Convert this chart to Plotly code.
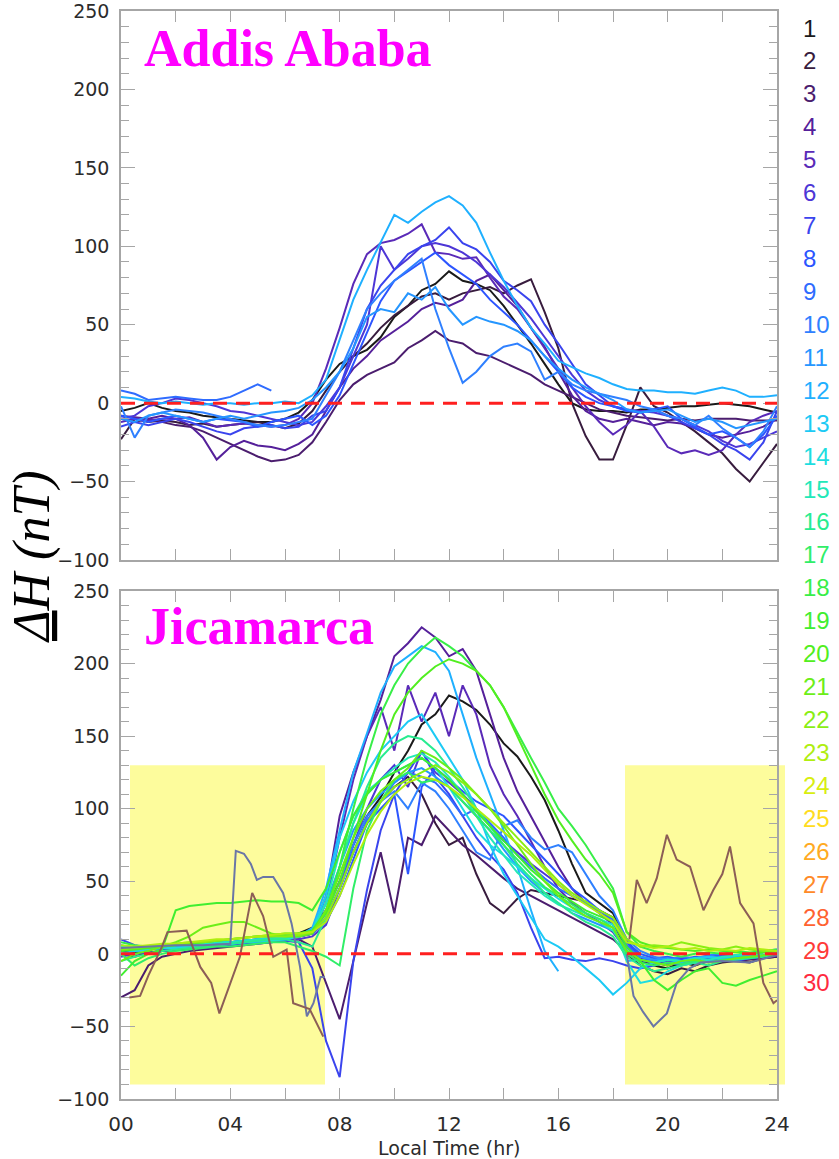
import plotly.graph_objects as go

# ---------------------------------------------------------------- time grid
hours = [0.0, 0.5, 1.0, 1.5, 2.0, 2.5, 3.0, 3.5, 4.0, 4.5, 5.0, 5.5, 6.0, 6.5,
         7.0, 7.5, 8.0, 8.5, 9.0, 9.5, 10.0, 10.5, 11.0, 11.5, 12.0, 12.5,
         13.0, 13.5, 14.0, 14.5, 15.0, 15.5, 16.0, 16.5, 17.0, 17.5, 18.0,
         18.5, 19.0, 19.5, 20.0, 20.5, 21.0, 21.5, 22.0, 22.5, 23.0, 23.5, 24.0]

# ---------------------------------------------------------------- day colours (legend 1..30)
day_colors = ["#1a1a1a", "#381c3e", "#4b1d6e", "#55209a", "#5a2ab8", "#4d36d6",
              "#3a44ee", "#2c55ff", "#2f6cff", "#2f80ff", "#2596ff", "#1fb0ff",
              "#1ccaf5", "#1ddde0", "#22e8b8", "#28ec90", "#30ee68", "#38ee48",
              "#40ee30", "#52ee20", "#6cee18", "#8aee14", "#b0ee10", "#d8ee10",
              "#ffdc20", "#ffaa22", "#ff8a28", "#ff6230", "#ff3a38", "#ff2a40"]
day_labels = [str(d) for d in range(1, 31)]

# ---------------------------------------------------------------- Addis Ababa, Delta H (nT)
addis_d01 = [-5, -3, 0, -3, -5, -6, -8, -9, -10, -11, -12, -12, -10, -6, 2, 15, 25, 30, 34, 42,
             55, 62, 72, 76, 84, 78, 76, 72, 62, 50, 38, 25, 12, 0, -4, -5, -5, -6, -4, -4,
             -3, -2, -2, -1, 0, -1, -2, -4, -6]
addis_d02 = [-23, -10, -12, -11, -12, -14, -13, -15, -14, -13, -12, -14, -16, -13, -5, 8, 20, 30, 38, 48,
             56, 62, 68, 70, 66, 70, 72, 74, 70, 75, 79, 58, 35, 0, -21, -36, -36, -14, 10, -2,
             -6, -12, -18, -25, -32, -42, -50, -38, -26]
addis_d03 = [-10, -12, -10, -12, -14, -15, -18, -22, -26, -30, -34, -37, -36, -33, -25, -12, 2, 12, 18, 22,
             26, 35, 40, 46, 40, 38, 32, 30, 26, 22, 18, 12, 8, 4, 0, -4, -6, -8, -9, -10,
             -11, -10, -11, -10, -10, -10, -11, -11, -11]
addis_d04 = [-8, -9, -10, -8, -10, -14, -22, -36, -28, -24, -27, -28, -30, -26, -20, -5, 10, 22, 30, 40,
             46, 52, 60, 64, 62, 66, 78, 82, 72, 62, 48, 36, 20, 5, -5, -10, -12, -10, -12, -14,
             -12, -13, -16, -20, -22, -20, -18, -15, -10]
addis_d05 = [-12, -10, -11, -10, -10, -9, -12, -15, -14, -13, -14, -15, -14, -10, 0, 22, 48, 76, 95, 102,
             104, 108, 114, 96, 95, 92, 93, 80, 68, 60, 48, 35, 22, 10, -2, -12, -20, -14, -5, -15,
             -28, -32, -30, -33, -30, -20, -12, -8, -5]
addis_d06 = [-10, -8, -2, 0, 3, 2, 0, -2, -5, -6, -8, -10, -12, -14, -12, -2, 10, 30, 50, 100,
             85, 92, 100, 102, 100, 96, 90, 82, 74, 64, 54, 42, 30, 18, 8, 2, -2, -4, -5, -6,
             -8, -10, -14, -18, -24, -28, -26, -22, -18]
addis_d07 = [-15, -12, -14, -12, -10, -12, -15, -18, -20, -16, -15, -14, -16, -15, -8, -5, 10, 35, 60, 75,
             85, 95, 100, 104, 112, 102, 98, 90, 78, 72, 65, 50, 38, 25, 12, 5, -2, -4, -6, -4,
             -8, -12, -16, -20, -26, -30, -36, -25, -5]
addis_d08 = [-8, -10, -12, -10, -8, -10, -12, -10, -11, -12, -15, -12, -10, -8, -14, -8, 5, 25, 45, 65,
             78, 84, 90, 96, 88, 82, 76, 66, 58, 50, 40, 30, 20, 10, 4, 0, -2, -5, -6, -4,
             -2, -10, -15, -20, -18, -22, -28, -20, -8]
addis_d09 = [8, 6, 2, 3, 4, 3, 2, 2, 4, 8, 12, 8]
addis_d10 = [-2, -22, -8, -6, -4, -5, -6, -8, -10, -12, -14, -15, -14, -12, -10, 5, 20, 40, 60, 70,
             78, 85, 92, 60, 35, 13, 20, 30, 36, 38, 33, 15, 20, 12, 8, 6, 4, 2, -2, -4,
             -8, -10, -14, -8, -16, -22, -28, -18, -2]
addis_d11 = [-10, -12, -8, -6, -8, -10, -12, -10, -8, -10, -8, -6, -5, -3, 2, 10, 20, 35, 55, 60,
             58, 70, 66, 74, 60, 50, 55, 52, 50, 46, 40, 30, 22, 15, 10, 6, 2, -4, -6, -5,
             -4, -8, -12, -10, -12, -16, -14, -12, -10]
addis_d12 = [4, 3, 1, 0, 1, 0, -1, 0, 0, -1, 0, 0, 1, 0, 5, 15, 40, 66, 85, 102,
             120, 115, 122, 128, 132, 126, 115, 96, 78, 62, 48, 38, 27, 23, 19, 16, 12, 9, 8, 8,
             7, 7, 6, 8, 10, 8, 4, 4, 5]

# ---------------------------------------------------------------- Jicamarca, Delta H (nT)
jica_d01 = [2, 1, 0, 2, 3, 4, 5, 6, 7, 8, 9, 10, 12, 14, 18, 30, 50, 75, 95, 108,
            125, 140, 158, 165, 178, 174, 168, 158, 145, 136, 122, 106, 85, 62, 42, 35, 28, 10, -5, -8,
            -10, -6, -8, -5, -3, -4, -2, -1, 0]
jica_d02 = [0, -2, 1, 2, 3, 4, 4, 5, 6, 7, 8, 9, 10, 12, 14, 25, 45, 70, 90, 105,
            115, 122, 110, 90, 75, 80, 55, 35, 28, 38, 44, 42, 40, 38, 36, 30, 25, 0, -8, -12,
            -14, -10, -12, -8, -6, -5, -6, -3, -2]
jica_d03 = [-30, -25, -8, -2, 0, 2, 3, 4, 5, 6, 7, 8, 9, 10, 5, -20, -45, -5, 35, 70,
            28, 80, 75, 95, 85, 75, 68, 60, 52, 45, 40, 35, 30, 25, 20, 15, 10, 2, -5, -6,
            -8, -5, -6, -4, -3, -5, -4, -3, -2]
jica_d04 = [5, 3, 4, 5, 6, 6, 7, 8, 8, 9, 10, 10, 11, 12, 15, 40, 95, 125, 150, 175,
            205, 214, 225, 218, 205, 210, 195, 165, 135, 112, 95, 78, 60, 45, 35, 28, 20, 5, -3, -5,
            -6, -4, -5, -3, -2, -3, -1, 0, 1]
jica_d05 = [3, 2, 3, 4, 5, 5, 6, 6, 7, 8, 8, 9, 10, 12, 14, 35, 80, 120, 150, 170,
            140, 185, 160, 180, 150, 185, 165, 130, 110, 95, 78, 60, 45, 35, 28, 22, 15, 2, -4, -6,
            -5, -3, -4, -2, -1, -2, 0, 1, 2]
jica_d06 = [-2, 0, 1, 2, 3, 4, 4, 5, 6, 7, 7, 8, 9, 10, 12, 20, 45, 75, 100, 120,
            130, 115, 140, 125, 118, 110, 100, 88, 78, 70, 62, 55, 48, 40, 35, 30, 24, 8, -2, -4,
            -5, -3, -4, -2, -3, -2, -1, 0, 0]
jica_d07 = [10, 6, 4, 3, 4, 5, 5, 6, 6, 7, 8, 8, 9, 8, -10, -60, -85, -5, 44, 85,
            110, 125, 140, 122, 110, 95, 80, 68, 58, 42, 18, -3, -2, -4, -5, -3, -5, -8, -10, -8,
            -6, -8, -6, -5, -4, -5, -3, -2, -1]
jica_d08 = [4, 3, 3, 4, 5, 5, 6, 6, 7, 8, 9, 10, 11, 12, 14, 22, 40, 65, 90, 100,
            110, 55, 115, 128, 120, 112, 105, 100, 95, 85, 75, 65, 55, 45, 38, 30, 22, 8, 0, -3,
            -2, -4, -2, -3, -1, -2, 0, 1, 2]
jica_d09 = [6, 4, 5, 5, 6, 6, 7, 7, 8, 9, 9, 10, 11, 12, 14, 25, 45, 70, 92, 105,
            118, 125, 122, 118, 108, 95, 100, 90, 80, 68, 60, 52, 45, 40, 35, 30, 24, 6, -2, -5,
            -3, -6, -4, -2, -3, -1, 0, 1, 2]
jica_d10 = [5, 4, 5, 5, 6, 7, 7, 8, 8, 9, 10, 10, 11, 12, 15, 28, 50, 75, 95, 105,
            112, 100, 118, 112, 100, 85, 70, 65, 88, 92, 80, 72, 75, 70, 55, 40, 30, 10, 2, -2,
            -4, -2, -3, -1, 0, -2, 0, 2, 3]
jica_d11 = [2, 3, 4, 4, 5, 5, 6, 7, 7, 8, 9, 10, 10, 12, 16, 35, 60, 85, 100, 110,
            118, 125, 128, 122, 115, 105, 95, 85, 72, 60, 50, 42, 35, 28, 24, 20, 16, 4, -2, -4,
            -3, -5, -3, -2, -3, -1, 0, 1, 2]
jica_d12 = [0, 2, 3, 4, 4, 5, 6, 6, 7, 8, 8, 9, 10, 12, 18, 45, 85, 125, 152, 180,
            198, 205, 212, 208, 195, 165, 135, 110, 85, 60, 30, 2, -12, None, None, None, None, -5, -4, -6,
            -4, -6, -3, -2, -4, -2, -1, 0, 0]
jica_d13 = [4, 3, 5, 5, 6, 6, 7, 8, 8, 9, 10, 11, 12, 13, 16, 40, 80, 105, 125, 140,
            150, 160, 165, 150, 135, 120, 100, 75, 55, 40, 25, 10, 5, -2, -10, -18, -28, -20, -10, -6,
            -4, -5, -3, -2, -3, -1, 0, 1, 1]
jica_d14 = [3, 2, 3, 4, 4, 5, 6, 6, 7, 8, 9, 9, 10, 12, 15, 30, 60, 90, 110, 120,
            125, 130, 135, 128, 115, 100, 85, 75, 68, 60, 52, 45, 38, 32, 28, 24, 20, -5, -20, -18,
            -12, -8, -6, -4, -5, -3, -2, 0, 1]
jica_d15 = [5, 4, 5, 5, 6, 7, 7, 8, 8, 9, 10, 10, 11, 12, 16, 35, 70, 95, 112, 120,
            128, 135, 138, 132, 122, 110, 95, 80, 68, 56, 48, 40, 34, 30, 26, 22, 16, 2, -4, -6,
            -4, -5, -3, -4, -2, -1, 0, 1, 2]
jica_d16 = [-5, -2, 0, 2, 3, 4, 5, 6, 7, 8, 9, 10, 10, 8, 5, 25, 60, 90, 115, 135,
            145, 150, 148, 140, 128, 115, 100, 88, 75, 62, 52, 42, 35, 28, 22, 18, 12, -2, -8, -12,
            -10, -8, -6, -8, -5, -4, -3, -2, 0]
jica_d17 = [0, -8, -3, 0, 2, 3, 4, 5, 5, 6, 7, 8, 8, 5, 2, -2, -8, 45, 85, 105,
            120, 125, 118, 120, 115, 105, 95, 85, 75, 65, 55, 46, 40, 34, 28, 24, 18, 0, -6, -8,
            -6, -7, -5, -6, -4, -3, -2, -1, 0]
jica_d18 = [8, 6, 5, 5, 6, 7, 8, 9, 10, 11, 12, 12, 13, 14, 16, 30, 60, 100, 135, 165,
            185, 200, 210, 218, 212, 205, 195, 185, 170, 152, 135, 118, 100, 88, 75, 60, 45, 15, 5, 2,
            0, -2, 0, 1, 0, 2, 1, 2, 3]
jica_d19 = [-15, -5, 0, 3, 30, 33, 34, 35, 35, 36, 37, 36, 36, 35, 30, 45, 70, 95, 110, 120,
            125, 130, 135, 128, 120, 110, 98, 88, 78, 68, 58, 50, 42, 36, 30, 26, 22, 5, -5, -18,
            -25, -18, -12, -10, -20, -22, -18, -15, -12]
jica_d20 = [2, 3, 4, 5, 6, 7, 8, 9, 10, 11, 12, 13, 14, 14, 16, 28, 50, 80, 110, 140,
            165, 180, 190, 198, 203, 200, 195, 185, 170, 150, 130, 110, 92, 78, 65, 55, 42, 15, 8, 5,
            4, 3, 2, 3, 2, 1, 0, 1, 2]
jica_d21 = [-5, 0, 2, 5, 8, 12, 18, 20, 22, 22, 18, 14, 12, 12, 14, 30, 55, 80, 100, 112,
            120, 128, 140, 135, 128, 120, 110, 100, 88, 75, 62, 50, 40, 32, 26, 22, 18, 2, -4, -6,
            -8, -5, -4, -6, -5, -3, -2, -1, 0]
jica_d22 = [3, 4, 5, 6, 7, 8, 8, 9, 10, 11, 12, 12, 12, 13, 15, 25, 45, 70, 90, 105,
            115, 120, 125, 130, 125, 118, 110, 100, 90, 80, 70, 60, 50, 42, 36, 30, 25, 10, 5, 6,
            5, 8, 6, 4, 3, 5, 3, 2, 2]
jica_d23 = [6, 5, 6, 7, 7, 8, 9, 10, 10, 11, 12, 13, 14, 14, 15, 22, 40, 62, 82, 98,
            110, 118, 122, 120, 115, 108, 100, 92, 84, 76, 68, 58, 48, 40, 34, 28, 22, 8, 6, 4,
            5, 3, 4, 2, 3, 2, 4, 3, 2]

# two disturbed nights, sampled on their own times (gap through the day)
brown_hours = [0.3, 0.7, 1.0, 1.5, 1.7, 2.4, 2.9, 3.3, 3.6, 4.0, 4.35, 4.8, 5.2, 5.57, 6.06, 6.3, 6.9, 7.4,
               None,
               18.6, 18.87, 19.23, 19.6, 19.97, 20.33, 20.82, 21.31, 21.67, 22.0, 22.28, 22.65, 23.14,
               23.5, 23.87, 24.0]
brown_vals = [-30, -29, -15, 5, 15, 16, -9, -20, -41, -20, -2, 42, 26, -2, 3, -34, -38, -57,
              None,
              10, 51, 35, 52, 82, 65, 60, 30, 44, 55, 74, 35, 21, -20, -34, -32]
slate_hours = [0.0, 1.0, 2.0, 3.0, 4.0, 4.2, 4.5, 4.75, 4.97, 5.2, 5.57, 5.93, 6.24, 6.55, 6.8, 7.04, 7.3, 7.46,
               None,
               18.5, 18.75, 19.1, 19.48, 19.97, 20.33, 20.8, 21.2, 22.0, 23.0, 24.0]
slate_vals = [4, 5, 6, 6, 7, 71, 69, 62, 51, 53, 53, 42, 21, -9, -43, -34, -16, -16,
              None,
              0, -29, -40, -50, -41, -20, -10, -6, -5, -6, -1]

addis_series = [addis_d01, addis_d02, addis_d03, addis_d04, addis_d05, addis_d06,
                addis_d07, addis_d08, addis_d09, addis_d10, addis_d11, addis_d12]
jica_series = [jica_d01, jica_d02, jica_d03, jica_d04, jica_d05, jica_d06, jica_d07, jica_d08,
               jica_d09, jica_d10, jica_d11, jica_d12, jica_d13, jica_d14, jica_d15, jica_d16,
               jica_d17, jica_d18, jica_d19, jica_d20, jica_d21, jica_d22, jica_d23]

# ---------------------------------------------------------------- geometry helpers (pixels -> paper)
W, H = 839, 1159
ML, MR, MT, MB = 121, 62, 11, 60
PW = W - ML - MR
PH = H - MT - MB


def px(xp):
    return (xp - ML) / PW


def py(yp):
    return (H - MB - yp) / PH


fig = go.Figure()

for i, vals in enumerate(addis_series):
    fig.add_trace(go.Scatter(x=hours[:len(vals)], y=vals, mode="lines",
                             line=dict(color=day_colors[i], width=2),
                             xaxis="x", yaxis="y", showlegend=False, hoverinfo="skip"))

for i, vals in enumerate(jica_series):
    fig.add_trace(go.Scatter(x=hours, y=vals, mode="lines",
                             line=dict(color=day_colors[i], width=2),
                             xaxis="x2", yaxis="y2", showlegend=False, hoverinfo="skip",
                             connectgaps=False))

fig.add_trace(go.Scatter(x=slate_hours, y=slate_vals, mode="lines",
                         line=dict(color="#6a76a6", width=2),
                         xaxis="x2", yaxis="y2", showlegend=False, hoverinfo="skip"))
fig.add_trace(go.Scatter(x=brown_hours, y=brown_vals, mode="lines",
                         line=dict(color="#8c5e56", width=2),
                         xaxis="x2", yaxis="y2", showlegend=False, hoverinfo="skip"))

frame = "#a6a6a6"
tick_font = dict(family="DejaVu Sans", size=19, color="#2b2b2b")
xcommon = dict(range=[0, 24], showline=True, linecolor=frame, linewidth=1.6, mirror="allticks",
               ticks="inside", ticklen=11, tickwidth=1.3, tickcolor=frame, automargin=False,
               tickvals=[0, 2, 4, 6, 8, 10, 12, 14, 16, 18, 20, 22, 24],
               ticktext=["00", "", "04", "", "08", "", "12", "", "16", "", "20", "", "24"],
               ticklabeloverflow="allow",
               showgrid=False, zeroline=False, tickfont=dict(family="DejaVu Sans", size=20, color="#2b2b2b"))
ycommon = dict(range=[-100, 250], showline=True, linecolor=frame, linewidth=1.6, mirror="allticks",
               ticks="inside", ticklen=14, tickwidth=1.3, tickcolor=frame, automargin=False,
               tick0=0, dtick=50, showgrid=False, zeroline=False, tickfont=tick_font,
               ticklabelstandoff=6, ticklabeloverflow="allow",
               minor=dict(dtick=10, ticks="inside", ticklen=8, tickwidth=1.2, tickcolor=frame,
                          showgrid=False))

fig.update_layout(
    width=W, height=H,
    margin=dict(l=ML, r=MR, t=MT, b=MB, autoexpand=False),
    paper_bgcolor="white", plot_bgcolor="white",
    xaxis=dict(xcommon, anchor="y", domain=[0, 1], showticklabels=False),
    yaxis=dict(ycommon, anchor="x", domain=[py(560), 1.0]),
    xaxis2=dict(xcommon, anchor="y2", domain=[0, 1], ticklabelstandoff=6),
    yaxis2=dict(ycommon, anchor="x2", domain=[0.0, py(591)]),
)

shapes = []
# yellow night-time bands (Jicamarca)
for x0, x1 in [(130, 325), (625, 785)]:
    shapes.append(dict(type="rect", xref="paper", yref="y2", x0=px(x0), x1=px(x1), y0=-90, y1=130,
                       fillcolor="#fdfc9c", line=dict(width=0), layer="below"))
# zero reference lines
for xr, yr in [("x", "y"), ("x2", "y2")]:
    shapes.append(dict(type="line", xref=xr, yref=yr, x0=0, x1=24, y0=0, y1=0,
                       line=dict(color="#ff1f1f", width=3, dash="14px,9px"), layer="above"))
fig.update_layout(shapes=shapes)

annotations = [
    dict(text="<b>Addis Ababa</b>", x=px(142), y=py(48.5), xanchor="left", yanchor="middle",
         font=dict(family="Liberation Serif", size=52, color="#ff00ff")),
    dict(text="<b>Jicamarca</b>", x=px(142), y=py(626.5), xanchor="left", yanchor="middle",
         font=dict(family="Liberation Serif", size=52, color="#ff00ff")),
    dict(text="<i><u>Δ</u>H (nT)</i>", x=px(32), y=py(557), xanchor="center", yanchor="middle",
         textangle=-90, font=dict(family="Liberation Serif", size=52, color="#000000")),
    dict(text="Local Time (hr)", x=px(449), y=py(1148), xanchor="center", yanchor="middle",
         font=dict(family="DejaVu Sans", size=19, color="#2b2b2b")),
]
for i, lab in enumerate(day_labels):
    annotations.append(dict(text=lab, x=px(801), y=py(28 + i * 32.93), xanchor="left", yanchor="middle",
                            font=dict(family="Liberation Sans", size=24, color=day_colors[i])))
for a in annotations:
    a.update(xref="paper", yref="paper", showarrow=False)
fig.update_layout(annotations=annotations)

fig.write_html("out.html")
